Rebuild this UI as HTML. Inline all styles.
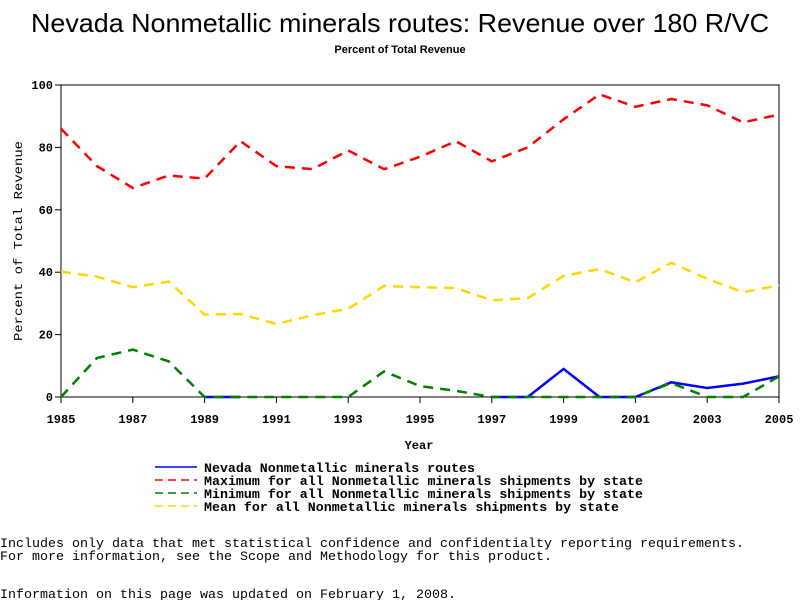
<!DOCTYPE html>
<html><head><meta charset="utf-8"><style>body{margin:0;background:#fff}svg{display:block}</style></head>
<body>
<svg id="chart" width="800" height="600" xmlns="http://www.w3.org/2000/svg">
<text x="400" y="32" text-anchor="middle" font-family="Liberation Sans, sans-serif" font-size="26" textLength="738" lengthAdjust="spacingAndGlyphs">Nevada Nonmetallic minerals routes: Revenue over 180 R/VC</text>
<text x="400" y="53" text-anchor="middle" font-family="Liberation Sans, sans-serif" font-size="11" font-weight="bold">Percent of Total Revenue</text>
<g id="axes"></g>
<g id="series"></g>
<text x="419" y="449" text-anchor="middle" font-family="Liberation Mono, monospace" font-size="12" font-weight="bold">Year</text>
<text transform="translate(22,241) rotate(-90)" text-anchor="middle" font-family="Liberation Mono, monospace" font-size="12" textLength="200" lengthAdjust="spacingAndGlyphs">Percent of Total Revenue</text>
<g font-family="Liberation Mono, monospace" font-size="13" font-weight="bold">
<g><line x1="155" y1="467" x2="197" y2="467" stroke="#0000ff" stroke-width="1.5"/><text x="204" y="472" textLength="271" lengthAdjust="spacingAndGlyphs">Nevada Nonmetallic minerals routes</text></g>
<g><line x1="155" y1="480" x2="197" y2="480" stroke="#ff0000" stroke-width="1.5" stroke-dasharray="8,5"/><text x="204" y="485" textLength="439" lengthAdjust="spacingAndGlyphs">Maximum for all Nonmetallic minerals shipments by state</text></g>
<g><line x1="155" y1="493" x2="197" y2="493" stroke="#008000" stroke-width="1.5" stroke-dasharray="8,5"/><text x="204" y="498" textLength="439" lengthAdjust="spacingAndGlyphs">Minimum for all Nonmetallic minerals shipments by state</text></g>
<g><line x1="155" y1="506" x2="197" y2="506" stroke="#ffd700" stroke-width="1.5" stroke-dasharray="8,5"/><text x="204" y="511" textLength="415" lengthAdjust="spacingAndGlyphs">Mean for all Nonmetallic minerals shipments by state</text></g>
</g>
<g font-family="Liberation Mono, monospace" font-size="13">
<text x="0" y="547" textLength="744" lengthAdjust="spacingAndGlyphs">Includes only data that met statistical confidence and confidentialty reporting requirements.</text>
<text x="0" y="560" textLength="552" lengthAdjust="spacingAndGlyphs">For more information, see the Scope and Methodology for this product.</text>
<text x="0" y="598" textLength="456" lengthAdjust="spacingAndGlyphs">Information on this page was updated on February 1, 2008.</text>
</g>
</svg>
<script>
const years = [1985,1986,1987,1988,1989,1990,1991,1992,1993,1994,1995,1996,1997,1998,1999,2000,2001,2002,2003,2004,2005];
const nevada = [null,null,null,null,0,0,null,null,null,null,null,null,0,0,9,0,0,4.7,2.9,4.3,6.6];
const maximum = [86,74,67,71,70,82,74,73,79,73,77,82,75.5,80,89,97,93,95.5,93.5,88,90.5];
const minimum = [0,12.5,15.2,11.4,0,0,0,0,0,8.2,3.5,2,0,0,0,0,0,4.5,0,0,6.6];
const mean = [40.2,38.6,35.2,37,26.4,26.6,23.4,26.2,28.3,35.6,35.2,34.9,31,31.7,38.8,41,36.8,43,37.9,33.6,35.8];
const yTicks = [0,20,40,60,80,100];
const xTickLabels = [1985,1987,1989,1991,1993,1995,1997,1999,2001,2003,2005];

const NS = 'http://www.w3.org/2000/svg';
const X0 = 61, X1 = 779, Y0 = 397, Y1 = 85;
const xs = y => X0 + (y - 1985) / 20 * (X1 - X0);
const ys = v => Y0 - v / 100 * (Y0 - Y1);
function mk(tag, attrs, parent) { const e = document.createElementNS(NS, tag); for (const k in attrs) e.setAttribute(k, attrs[k]); parent.appendChild(e); return e; }
const axes = document.getElementById('axes');
const frame = mk('rect', {x: X0, y: Y1, width: X1 - X0, height: Y0 - Y1, fill: 'none', stroke: '#000', 'stroke-width': 1}, axes);


yTicks.forEach(t => {
  mk('line', {x1: X0 - 6, x2: X0, y1: ys(t), y2: ys(t), stroke: '#000'}, axes);
  const tx = mk('text', {x: X0 - 8, y: ys(t) + 4, 'text-anchor': 'end', 'font-family': 'Liberation Mono, monospace', 'font-size': 12, 'font-weight': 'bold'}, axes);
  tx.textContent = t;
  
  
});
xTickLabels.forEach(t => {
  mk('line', {x1: xs(t), x2: xs(t), y1: Y0, y2: Y0 + 6, stroke: '#000'}, axes);
  const tx = mk('text', {x: xs(t), y: Y0 + 26, 'text-anchor': 'middle', 'font-family': 'Liberation Mono, monospace', 'font-size': 12, 'font-weight': 'bold'}, axes);
  tx.textContent = t;
  
  
});
const sg = document.getElementById('series');
function drawSeries(vals, color, dash, width, name) {
  let d = '', pen = false;
  vals.forEach((v, i) => {
    if (v === null) { pen = false; return; }
    d += (pen ? 'L' : 'M') + xs(years[i]).toFixed(1) + ',' + ys(v).toFixed(1);
    pen = true;
  });
  const p = mk('path', {d: d, fill: 'none', stroke: color, 'stroke-width': width, 'stroke-dasharray': dash}, sg);
  
  
}
drawSeries(maximum, '#ff0000', '10,7', 2.5, 'maximum-line');
drawSeries(mean, '#ffd700', '10,7', 2.5, 'mean-line');
drawSeries(nevada, '#0000ff', 'none', 2.5, 'nevada-line');
drawSeries(minimum, '#008000', '10,7', 2.5, 'minimum-line');
</script>
</body></html>
